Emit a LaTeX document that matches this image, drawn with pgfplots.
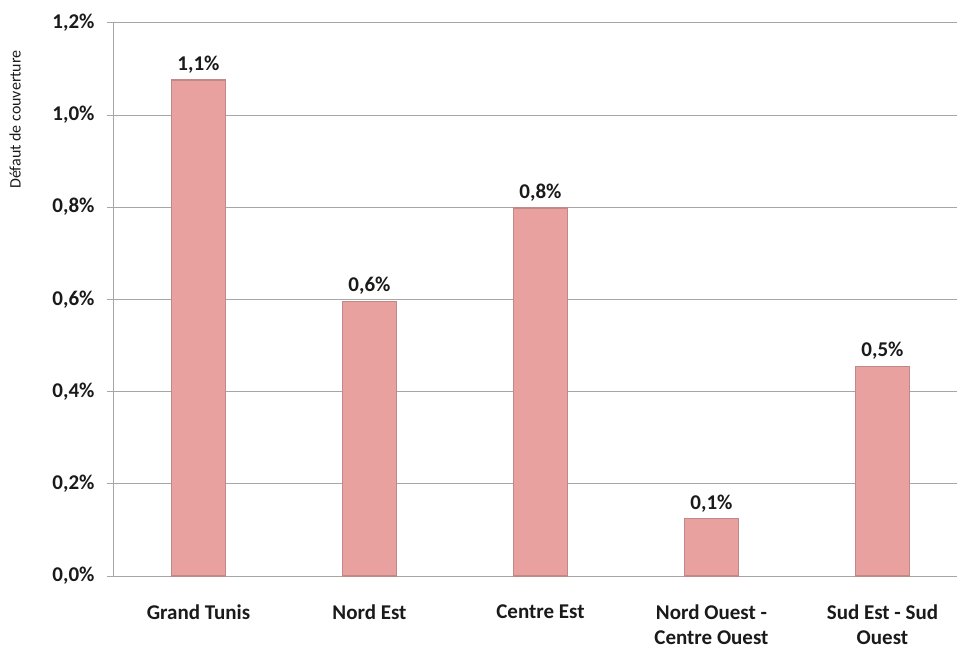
\documentclass[border=0pt]{standalone}
\usepackage{pgfplots}
\pgfplotsset{compat=1.18}
\usepackage{fontspec}
\setmainfont{Carlito}
\definecolor{barfill}{HTML}{E8A19F}
\definecolor{baredge}{HTML}{C08987}
\definecolor{gridc}{HTML}{A6A6A6}
\definecolor{txt}{HTML}{1A1A1A}
\begin{document}
\begin{tikzpicture}
\path[use as bounding box] (-113pt,-72pt) rectangle (844pt,576pt);
\begin{axis}[
  at={(0,0)}, anchor=south west,
  scale only axis, width=844pt, height=553.3pt,
  xmin=-0.5, xmax=4.436, ymin=0, ymax=1.2,
  axis x line*=bottom, axis y line*=left,
  axis line style={gridc, line width=0.8pt},
  ymajorgrids, grid style={gridc, line width=0.8pt},
  ytick={0,0.2,0.4,0.6,0.8,1.0,1.2},
  tick align=outside, major tick length=6pt,
  y tick style={gridc, line width=0.8pt},
  x tick style={draw=none},
  xtick={0,1,2,3,4},
  xticklabels={Grand Tunis, Nord Est, Centre Est, {Nord Ouest -\\Centre Ouest}, {Sud Est - Sud\\Ouest}},
  extra x ticks={-0.5,0.5,1.5,2.5,3.5},
  extra x tick labels={},
  extra x tick style={grid=none, tick style={draw=gridc, line width=0.8pt}},
  /pgf/number format/assume math mode=true,
  yticklabel={\pgfmathprintnumber[fixed,fixed zerofill,precision=1,use comma]{\tick}\%},
  ticklabel style={font=\bfseries\fontsize{21}{25}\selectfont, text=txt},
  xticklabel style={align=center, yshift=-19pt},
  yticklabel style={xshift=-9pt},
  ylabel={Défaut de couverture},
  ylabel style={at={(axis description cs:-0.116,0.825)}, anchor=center, font=\fontsize{16}{18}\selectfont, text=txt},
  nodes near coords={\pgfmathprintnumber[fixed,precision=1,use comma]{\pgfplotspointmeta}\%},
  nodes near coords style={font=\bfseries\fontsize{21}{24}\selectfont, text=txt, yshift=3pt},
]
\addplot[ybar, bar width=54pt, fill=barfill, draw=baredge, line width=1.3pt]
  coordinates {(0,1.076) (1,0.595) (2,0.798) (3,0.124) (4,0.455)};
\end{axis}
\end{tikzpicture}
\end{document}
